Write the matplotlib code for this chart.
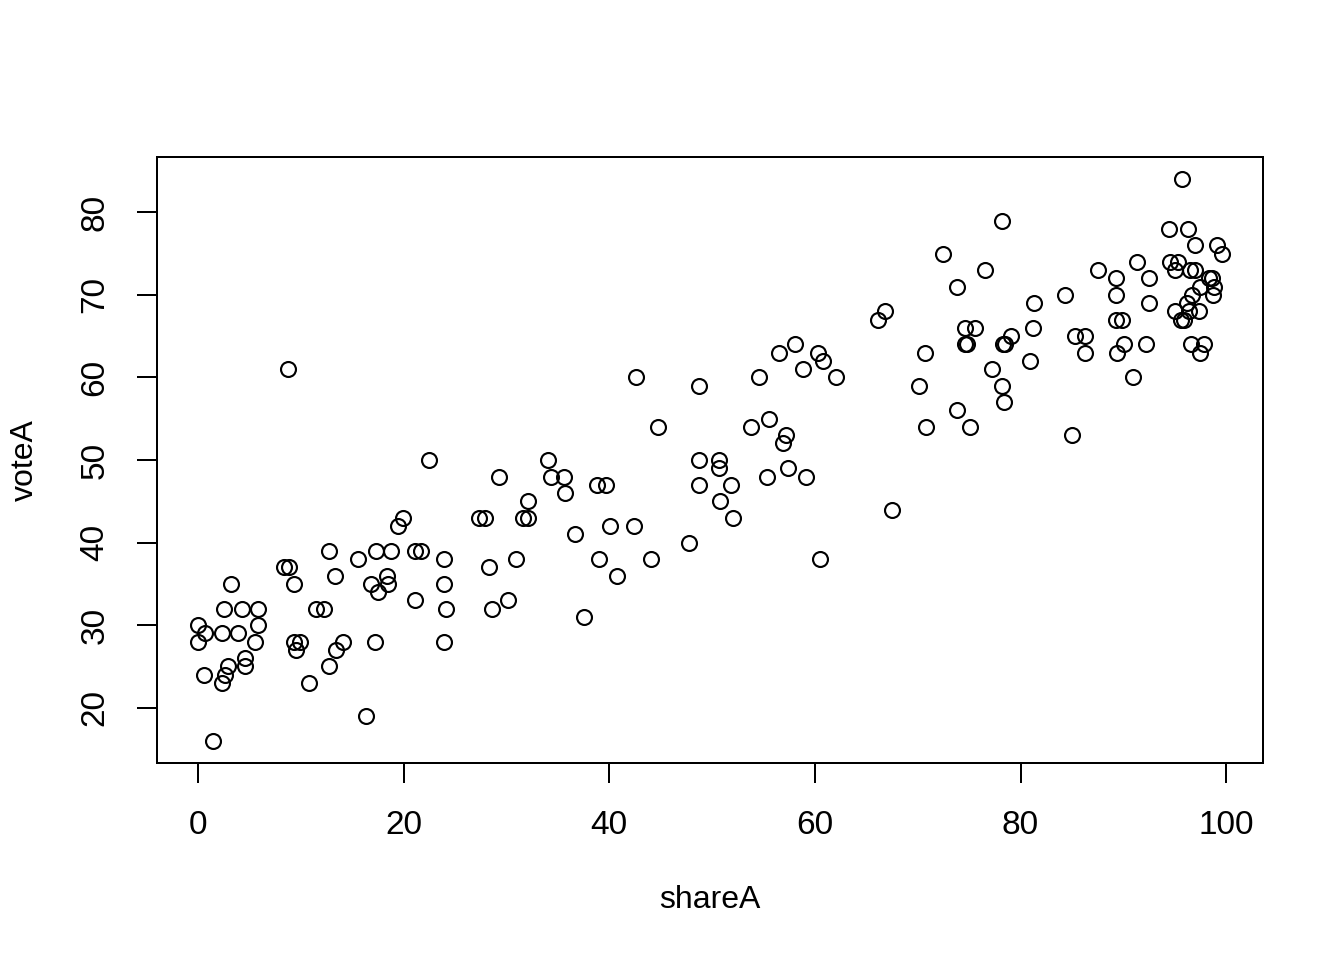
import matplotlib.pyplot as plt

plt.rcParams['font.family'] = ['Liberation Sans', 'DejaVu Sans']

# shareA / voteA values
shareA = [
    0.0, 0.0, 0.7, 0.6, 1.5, 2.5, 2.3, 2.3, 2.6, 2.9, 3.2, 3.9, 4.3, 4.6, 4.6,
    5.5, 5.8, 5.8, 8.4, 8.9, 8.8, 9.3, 9.3, 9.5, 9.9, 10.8, 11.5, 12.3, 12.7,
    12.7, 13.3, 13.4, 14.1, 15.6, 16.3, 16.8, 17.3, 17.2, 17.5, 18.4, 18.5,
    18.8, 19.5, 19.9, 21.1, 21.1, 21.7, 22.5, 23.9, 23.9, 24.1, 23.9, 27.3,
    27.9, 28.3, 28.6, 29.3, 30.2, 30.9, 31.6, 32.1, 32.1, 34.0, 34.3, 35.6,
    35.7, 36.7, 37.5, 38.8, 39.7, 39.0, 40.1, 40.8, 42.4, 42.6, 44.1, 44.7,
    47.8, 48.7, 48.7, 48.7, 50.7, 50.7, 50.8, 51.8, 52.0, 53.8, 54.6, 55.3,
    55.5, 56.5, 56.9, 57.2, 57.4, 58.1, 58.8, 59.1, 60.3, 60.5, 60.8, 62.1,
    66.1, 66.8, 67.5, 70.1, 70.7, 70.8, 72.5, 73.8, 73.8, 74.6, 74.6, 74.8,
    75.1, 75.6, 76.5, 77.2, 78.2, 78.2, 78.3, 78.5, 78.4, 79.1, 80.9, 81.2,
    81.3, 84.3, 85.0, 85.3, 86.3, 86.3, 87.5, 89.3, 89.3, 89.3, 89.4, 89.9,
    90.1, 90.9, 91.3, 92.2, 92.5, 92.5, 94.4, 94.5, 95.0, 95.0, 95.3, 95.6,
    95.7, 95.9, 96.3, 96.2, 96.4, 96.5, 96.6, 96.7, 97.0, 97.0, 97.4, 97.5,
    97.5, 97.8, 98.3, 98.6, 98.8, 98.7, 99.1, 99.6,
]
voteA = [
    30, 28, 29, 24, 16, 32, 29, 23, 24, 25, 35, 29, 32, 26, 25,
    28, 32, 30, 37, 37, 61, 35, 28, 27, 28, 23, 32, 32, 39,
    25, 36, 27, 28, 38, 19, 35, 39, 28, 34, 36, 35,
    39, 42, 43, 33, 39, 39, 50, 38, 35, 32, 28, 43,
    43, 37, 32, 48, 33, 38, 43, 43, 45, 50, 48, 48,
    46, 41, 31, 47, 47, 38, 42, 36, 42, 60, 38, 54,
    40, 59, 50, 47, 50, 49, 45, 47, 43, 54, 60, 48,
    55, 63, 52, 53, 49, 64, 61, 48, 63, 38, 62, 60,
    67, 68, 44, 59, 63, 54, 75, 71, 56, 66, 64, 64,
    54, 66, 73, 61, 79, 59, 64, 64, 57, 65, 62, 66,
    69, 70, 53, 65, 65, 63, 73, 72, 70, 67, 63, 67,
    64, 60, 74, 64, 72, 69, 78, 74, 73, 68, 74, 67,
    84, 67, 78, 69, 68, 73, 64, 70, 76, 73, 68, 71,
    63, 64, 72, 72, 71, 70, 76, 75,
]
x_ticks = [0, 20, 40, 60, 80, 100]
y_ticks = [20, 30, 40, 50, 60, 70, 80]

fig = plt.figure(figsize=(7, 5), dpi=192)
ax = fig.add_axes([157 / 1344, 1 - 763 / 960, 1106 / 1344, 606 / 960])

ax.plot(shareA, voteA, linestyle='none', marker='o', markersize=5.6,
        markerfacecolor='none', markeredgecolor='black', markeredgewidth=0.8)

# R style 4% padding on both axes
xpad = (max(shareA) - min(shareA)) * 0.04
ypad = (max(voteA) - min(voteA)) * 0.04
ax.set_xlim(min(shareA) - xpad, max(shareA) + xpad)
ax.set_ylim(min(voteA) - ypad, max(voteA) + ypad)

ax.set_xticks(x_ticks)
ax.set_yticks(y_ticks)
ax.set_yticklabels([str(v) for v in y_ticks], rotation=90, va='center')
ax.tick_params(length=7.5, width=0.75, labelsize=12.5, pad=10)
for s in ax.spines.values():
    s.set_linewidth(0.75)

fig.text(710 / 1344, 1 - 900 / 960, 'shareA', ha='center', va='center', fontsize=12)
fig.text(25 / 1344, 1 - 460 / 960, 'voteA', ha='center', va='center',
         rotation=90, fontsize=12)

fig.savefig('out.png', dpi=192)
